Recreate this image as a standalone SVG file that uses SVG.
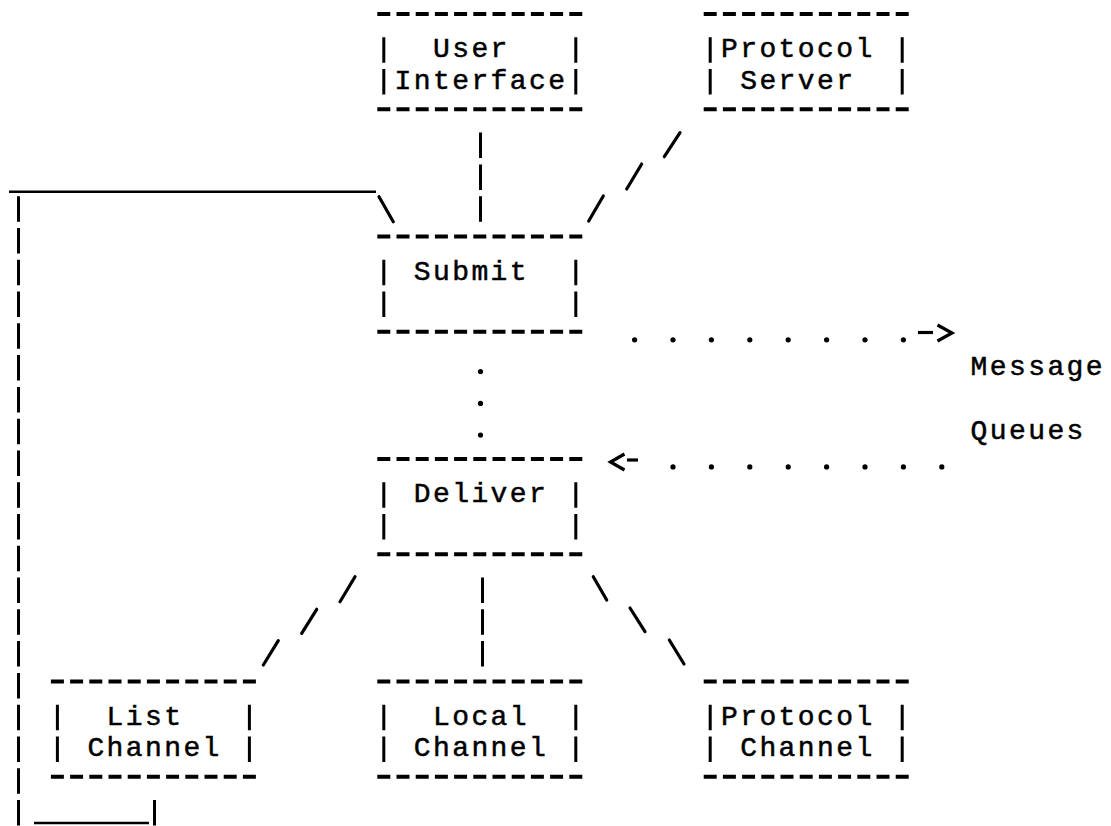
<svg xmlns="http://www.w3.org/2000/svg" width="1111" height="826" viewBox="0 0 1111 826">
  <style>
    .dash { stroke: #000; stroke-width: 4; stroke-dasharray: 13 6.2; fill: none; }
    .bar { stroke: #000; stroke-width: 3; fill: none; }
    .vrun { stroke: #000; stroke-width: 3; stroke-dasharray: 25.5 6.28; fill: none; }
    .slash { stroke: #000; stroke-width: 3.2; stroke-linecap: round; fill: none; }
    .under { stroke: #000; stroke-width: 2.6; fill: none; }
    .dot { fill: #000; }
    .arrow { stroke: #000; stroke-width: 3.2; fill: none; stroke-linejoin: miter; }
    text { font-family: "Liberation Mono", "DejaVu Sans Mono", monospace; font-size: 28px; letter-spacing: 2.4px; fill: #000; stroke: #000; stroke-width: 0.5; }
  </style>
  <rect width="1111" height="826" fill="#fff"/>

  <!-- boxes: dashed top/bottom rows, bar sides; labels sit on a 19.2px character grid -->
  <g id="user-interface">
    <line class="dash" x1="377.3" y1="14" x2="582.3" y2="14"/>
    <line class="dash" x1="377.3" y1="109.3" x2="582.3" y2="109.3"/>
    <path class="bar" d="M383.8 37.3V62.8M383.8 69.1V94.6M575.8 37.3V62.8M575.8 69.1V94.6"/>
    <text x="433" y="57.3">User</text>
    <text x="394.6" y="89.1">Interface</text>
  </g>

  <g id="protocol-server">
    <line class="dash" x1="703.7" y1="14" x2="908.7" y2="14"/>
    <line class="dash" x1="703.7" y1="109.3" x2="908.7" y2="109.3"/>
    <path class="bar" d="M710.2 37.3V62.8M710.2 69.1V94.6M902.2 37.3V62.8M902.2 69.1V94.6"/>
    <text x="721" y="57.3">Protocol</text>
    <text x="740.2" y="89.1">Server</text>
  </g>

  <g id="submit">
    <line class="dash" x1="377.3" y1="236.5" x2="582.3" y2="236.5"/>
    <line class="dash" x1="377.3" y1="331.8" x2="582.3" y2="331.8"/>
    <path class="bar" d="M383.8 259.7V285.2M383.8 291.5V317M575.8 259.7V285.2M575.8 291.5V317"/>
    <text x="413.8" y="279.7">Submit</text>
  </g>

  <g id="message-queues">
    <text x="970.6" y="375.1">Message</text>
    <text x="970.6" y="438.6">Queues</text>
  </g>

  <g id="deliver">
    <line class="dash" x1="377.3" y1="458.9" x2="582.3" y2="458.9"/>
    <line class="dash" x1="377.3" y1="554.3" x2="582.3" y2="554.3"/>
    <path class="bar" d="M383.8 482.2V507.7M383.8 514V539.5M575.8 482.2V507.7M575.8 514V539.5"/>
    <text x="413.8" y="502.2">Deliver</text>
  </g>

  <g id="list-channel">
    <line class="dash" x1="50.9" y1="681.4" x2="255.9" y2="681.4"/>
    <line class="dash" x1="50.9" y1="776.7" x2="255.9" y2="776.7"/>
    <path class="bar" d="M57.4 704.7V730.2M57.4 736.4V761.9M249.4 704.7V730.2M249.4 736.4V761.9"/>
    <text x="106.6" y="724.7">List</text>
    <text x="87.4" y="756.4">Channel</text>
  </g>

  <g id="local-channel">
    <line class="dash" x1="377.3" y1="681.4" x2="582.3" y2="681.4"/>
    <line class="dash" x1="377.3" y1="776.7" x2="582.3" y2="776.7"/>
    <path class="bar" d="M383.8 704.7V730.2M383.8 736.4V761.9M575.8 704.7V730.2M575.8 736.4V761.9"/>
    <text x="433" y="724.7">Local</text>
    <text x="413.8" y="756.4">Channel</text>
  </g>

  <g id="protocol-channel">
    <line class="dash" x1="703.7" y1="681.4" x2="908.7" y2="681.4"/>
    <line class="dash" x1="703.7" y1="776.7" x2="908.7" y2="776.7"/>
    <path class="bar" d="M710.2 704.7V730.2M710.2 736.4V761.9M902.2 704.7V730.2M902.2 736.4V761.9"/>
    <text x="721" y="724.7">Protocol</text>
    <text x="740.2" y="756.4">Channel</text>
  </g>

  <!-- connectors -->
  <g id="connectors">
    <!-- User Interface down to Submit -->
    <line class="vrun" x1="480.5" y1="132.6" x2="480.5" y2="221.7"/>
    <!-- Protocol Server down to Submit -->
    <line class="slash" x1="680" y1="132.7" x2="664.3" y2="156.7"/>
    <line class="slash" x1="641.7" y1="164" x2="626.7" y2="189"/>
    <line class="slash" x1="603.3" y1="196" x2="588.7" y2="221"/>
    <!-- return loop from List Channel back up to Submit -->
    <line class="under" x1="9" y1="191.7" x2="376" y2="191.7"/>
    <line class="slash" x1="379" y1="196.7" x2="393.3" y2="221.7"/>
    <line class="vrun" x1="18.5" y1="196.2" x2="18.5" y2="825.5"/>
    <line class="under" x1="34" y1="823" x2="149" y2="823"/>
    <line class="bar" x1="154.5" y1="800" x2="154.5" y2="825.5"/>
    <!-- Submit to Deliver -->
    <circle class="dot" cx="480.5" cy="371.6" r="2.6"/>
    <circle class="dot" cx="480.5" cy="403.4" r="2.6"/>
    <circle class="dot" cx="480.5" cy="435.1" r="2.6"/>
    <!-- Submit into the queues -->
    <circle class="dot" cx="634.6" cy="339.8" r="2.6"/>
    <circle class="dot" cx="673" cy="339.8" r="2.6"/>
    <circle class="dot" cx="711.4" cy="339.8" r="2.6"/>
    <circle class="dot" cx="749.8" cy="339.8" r="2.6"/>
    <circle class="dot" cx="788.2" cy="339.8" r="2.6"/>
    <circle class="dot" cx="826.6" cy="339.8" r="2.6"/>
    <circle class="dot" cx="865" cy="339.8" r="2.6"/>
    <circle class="dot" cx="903.4" cy="339.8" r="2.6"/>
    <line class="arrow" x1="918" y1="332.5" x2="933" y2="332.5" stroke-width="4"/>
    <polyline class="arrow" points="937.5,325 952,333 937.5,341"/>
    <!-- queues out to Deliver -->
    <polyline class="arrow" points="624.5,454 610.5,462 624.5,470"/>
    <line class="arrow" x1="627" y1="460" x2="638" y2="460" stroke-width="4"/>
    <circle class="dot" cx="673" cy="466.9" r="2.6"/>
    <circle class="dot" cx="711.4" cy="466.9" r="2.6"/>
    <circle class="dot" cx="749.8" cy="466.9" r="2.6"/>
    <circle class="dot" cx="788.2" cy="466.9" r="2.6"/>
    <circle class="dot" cx="826.6" cy="466.9" r="2.6"/>
    <circle class="dot" cx="865" cy="466.9" r="2.6"/>
    <circle class="dot" cx="903.4" cy="466.9" r="2.6"/>
    <circle class="dot" cx="941.8" cy="466.9" r="2.6"/>
    <!-- Deliver to List Channel -->
    <line class="slash" x1="355" y1="576.7" x2="340" y2="601.7"/>
    <line class="slash" x1="316.7" y1="609.3" x2="301.7" y2="633.3"/>
    <line class="slash" x1="278.3" y1="640.7" x2="263.3" y2="665"/>
    <!-- Deliver to Local Channel -->
    <line class="vrun" x1="482.5" y1="577.5" x2="482.5" y2="666.6"/>
    <!-- Deliver to Protocol Channel -->
    <line class="slash" x1="593.3" y1="576.7" x2="606.7" y2="600"/>
    <line class="slash" x1="630" y1="608" x2="645" y2="631.7"/>
    <line class="slash" x1="669.3" y1="640" x2="684" y2="664"/>
  </g>
</svg>
